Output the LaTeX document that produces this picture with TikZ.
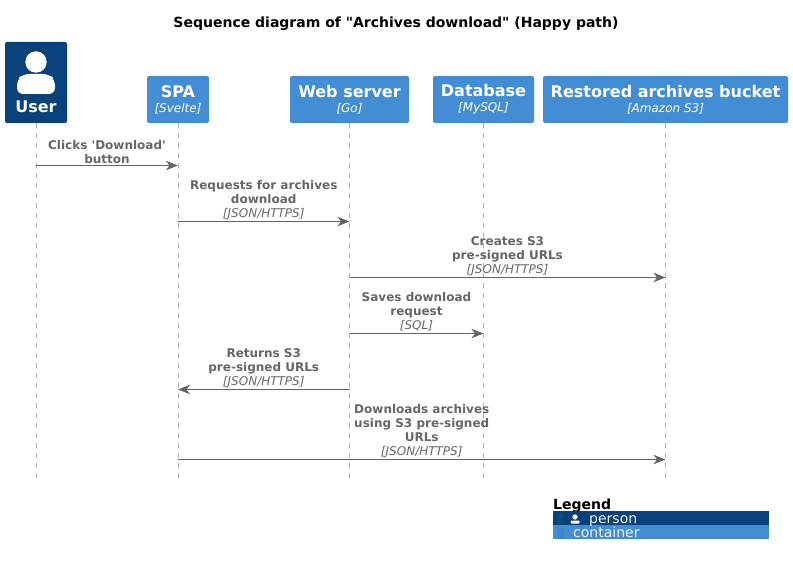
\documentclass[tikz,border=0pt]{standalone}
\usepackage{fontspec}
\setmainfont{DejaVu Sans}[Ligatures=TeXOff]
\usetikzlibrary{arrows.meta}
\definecolor{personblue}{HTML}{08427B}
\definecolor{containerblue}{HTML}{438DD5}
\definecolor{msggray}{HTML}{666666}
\definecolor{lifegray}{HTML}{B0B0B0}
\newcommand{\titlesize}{\fontsize{16}{18}\selectfont\bfseries}
\newcommand{\techsize}{\fontsize{12}{14}\selectfont\itshape}
\tikzset{
    actorbox/.style={fill=containerblue, text=white, rounded corners=2pt, inner sep=0pt, align=center},
    lifeline/.style={draw=lifegray, line width=1pt, dash pattern=on 5pt off 5pt},
    msg/.style={draw=msggray, line width=1pt, -{Stealth[length=12pt,width=9.5pt,inset=3.5pt]}},
    msglabel/.style={text=msggray, font=\fontsize{12}{14}\selectfont\bfseries, align=center, inner sep=0pt, above=1.5pt},
    legendbar/.style={minimum width=216pt, minimum height=14pt, inner sep=0pt, anchor=west}
}
\begin{document}
\begin{tikzpicture}[x=1pt,y=-1pt]
    \useasboundingbox (0,0) rectangle (793,564);
    \node (title) at (396,24) {\fontsize{14}{15}\selectfont\bfseries Sequence diagram of "Archives download" (Happy path)};

    % participants
    \node[actorbox, fill=personblue, minimum width=62pt, minimum height=81pt] (user) at (36,82.5) {};
    \node[actorbox, minimum width=62pt, minimum height=47pt] (spa) at (178,99.5) {\titlesize SPA\\[3pt]\techsize [Svelte]};
    \node[actorbox, minimum width=119pt, minimum height=47pt] (web) at (349.5,99.5) {\titlesize Web server\\[3pt]\techsize [Go]};
    \node[actorbox, minimum width=101pt, minimum height=47pt] (db) at (483.5,99.5) {\titlesize Database\\[3pt]\techsize [MySQL]};
    \node[actorbox, minimum width=245pt, minimum height=47pt] (bucket) at (665.5,99.5) {\titlesize Restored archives bucket\\[3pt]\techsize [Amazon S3]};

    % user icon
    \fill[white] (36,62) circle (10.7);
    \fill[white, rounded corners=6pt] (17,94) -- (17,80) -- (23,74) -- (49,74) -- (55,80) -- (55,94) -- cycle;
    \node[text=white, inner sep=0pt] (username) at (36,106.5) {\titlesize User};

    % lifelines
    \coordinate (bottom) at (0,478);
    \draw[lifeline] (user) -- (user |- bottom);
    \draw[lifeline] (spa) -- (spa |- bottom);
    \draw[lifeline] (web) -- (web |- bottom);
    \draw[lifeline] (db) -- (db |- bottom);
    \draw[lifeline] (bucket) -- (bucket |- bottom);

    % messages
    \draw[msg] (user |- 0,165.5) -- node[msglabel] (m1) {Clicks 'Download'\\button} (spa |- 0,165.5);
    \draw[msg] (spa |- 0,221.5) -- node[msglabel] (m2) {Requests for archives\\download\\{\techsize\mdseries [JSON/HTTPS]}} (web |- 0,221.5);
    \draw[msg] (web |- 0,277.5) -- node[msglabel] (m3) {Creates S3\\pre-signed URLs\\{\techsize\mdseries [JSON/HTTPS]}} (bucket |- 0,277.5);
    \draw[msg] (web |- 0,333.5) -- node[msglabel] (m4) {Saves download\\request\\{\techsize\mdseries [SQL]}} (db |- 0,333.5);
    \draw[msg] (web |- 0,389.5) -- node[msglabel] (m5) {Returns S3\\pre-signed URLs\\{\techsize\mdseries [JSON/HTTPS]}} (spa |- 0,389.5);
    \draw[msg] (spa |- 0,459.5) -- node[msglabel] (m6) {Downloads archives\\using S3 pre-signed\\URLs\\{\techsize\mdseries [JSON/HTTPS]}} (bucket |- 0,459.5);

    % legend
    \node[anchor=base west, inner sep=0pt] (legend) at (553,509) {\fontsize{14}{16}\selectfont\bfseries Legend};
    \node[legendbar, fill=personblue] (personbar) at (553,517.5) {};
    \node[legendbar, fill=containerblue] (containerbar) at (553,531.5) {};
    \fill[personblue!90!containerblue] (557.5,514) rectangle (563,523.5);
    \fill[containerblue!90!personblue] (557.5,528) rectangle (563.5,538.5);
    \fill[white] (575,517) circle (2.6);
    \fill[white, rounded corners=1pt] (570.5,523.5) -- (570.5,520.5) -- (579.5,520.5) -- (579.5,523.5) -- cycle;
    \node[anchor=base west, inner sep=0pt, text=white!90!containerblue] (persontext) at (589,523) {\fontsize{14}{16}\selectfont person};
    \node[anchor=base west, inner sep=0pt, text=white!90!containerblue] (containertext) at (573,537) {\fontsize{14}{16}\selectfont container};
\end{tikzpicture}
\end{document}
